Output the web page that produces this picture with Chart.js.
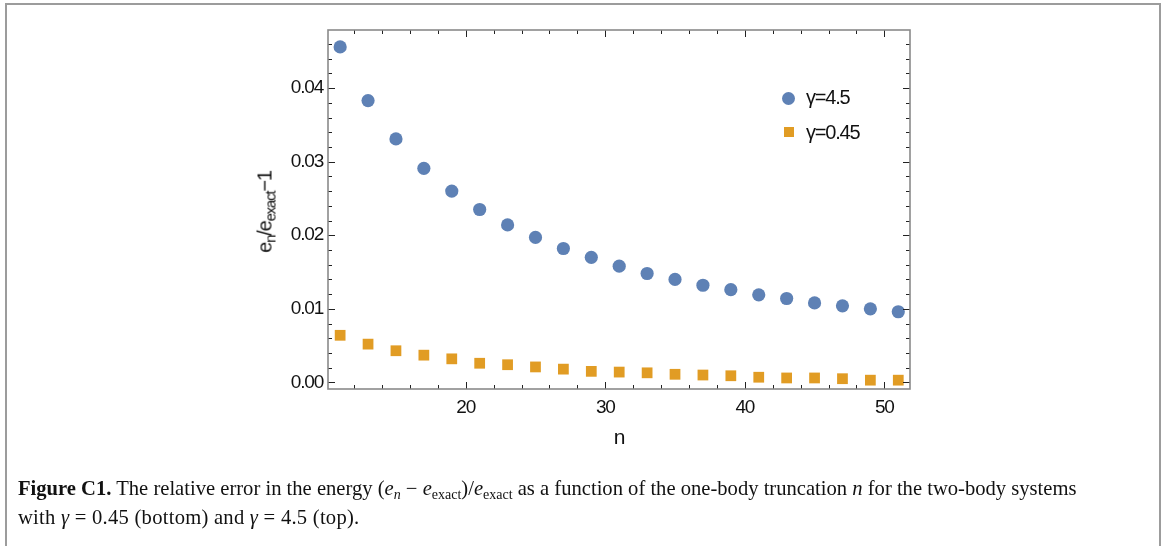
<!DOCTYPE html>
<html>
<head>
<meta charset="utf-8">
<script src="https://cdn.jsdelivr.net/npm/chart.js@4/dist/chart.umd.min.js"></script>
<style>
  html, body { margin: 0; padding: 0; background: #fff; overflow: hidden; }
  #wrap { position: relative; width: 1168px; height: 546px; }
  #frame { position: absolute; left: 5px; top: 3px; width: 1156px; height: 600px;
           border: 2px solid #9c9c9c; box-sizing: border-box; }
  #chart { position: absolute; left: 0; top: 0; }
  .sans { font-family: "Liberation Sans", Arial, sans-serif; color: #111; letter-spacing: -1.2px; }
  #ylabel { position: absolute; left: 266px; top: 212px; font-size: 20px; white-space: nowrap;
            transform: translate(-50%, -50%) rotate(-90deg); }
  #ylabel sub { font-size: 15px; vertical-align: -4px; }
  #xlabel { position: absolute; left: 619px; top: 437px; font-size: 21px; transform: translate(-50%, -50%); }
  .leg { position: absolute; left: 806px; font-size: 20px; white-space: nowrap; transform: translateY(-50%); }
  .mark { position: absolute; }
  #caption { position: absolute; left: 18px; top: 474px; font-family: "Liberation Serif", "DejaVu Serif", serif;
             font-size: 20.6px; line-height: 29px; color: #111; white-space: nowrap; }
  #caption sub { font-size: 14px; vertical-align: -4px; line-height: 0; }
  #caption .l2 { letter-spacing: 0.25px; }
</style>
</head>
<body>
<div id="wrap">
  <div id="frame"></div>
  <canvas id="chart" width="1168" height="546"></canvas>
  <div id="ylabel" class="sans">e<sub>n</sub>/e<sub>exact</sub>−1</div>
  <div id="xlabel" class="sans">n</div>
  <div class="mark" style="left:782px;top:92px;width:13px;height:13px;border-radius:50%;background:#5E81B5"></div>
  <div class="leg sans" style="top:97px">γ=4.5</div>
  <div class="mark" style="left:784px;top:127px;width:10px;height:10px;background:#E19C24"></div>
  <div class="leg sans" style="top:132px">γ=0.45</div>
  <div id="caption"><b>Figure C1.</b> The relative error in the energy (<i>e<sub>n</sub></i> − <i>e</i><sub>exact</sub>)/<i>e</i><sub>exact</sub> as a function of the one-body truncation <i>n</i> for the two-body systems<br><span class="l2">with <i>γ</i> = 0.45 (bottom) and <i>γ</i> = 4.5 (top).</span></div>
</div>
<script>
// 截断参数 n
const nValues = [11, 13, 15, 17, 19, 21, 23, 25, 27, 29, 31, 33, 35, 37, 39, 41, 43, 45, 47, 49, 51];
// γ=4.5 的相对误差
const errGamma45 = [0.0456, 0.0383, 0.0331, 0.0291, 0.0260, 0.0235, 0.0214, 0.0197, 0.0182, 0.0170,
                    0.0158, 0.0148, 0.0140, 0.0132, 0.0126, 0.0119, 0.0114, 0.0108, 0.0104, 0.0100, 0.0096];
// γ=0.45 的相对误差
const errGamma045 = [0.0064, 0.0052, 0.0043, 0.0037, 0.0032, 0.0026, 0.0024, 0.0021, 0.0018, 0.0015,
                     0.0014, 0.0013, 0.0011, 0.0010, 0.0009, 0.0007, 0.0006, 0.0006, 0.0005, 0.0003, 0.0003];
// 刻度
const xMajorTicks = [20, 30, 40, 50];
const yMajorTicks = [0.00, 0.01, 0.02, 0.03, 0.04];

const toPoints = (ys) => nValues.map((n, i) => ({ x: n, y: ys[i] }));

// 画边框和朝内的刻度（上下左右四条边）
const frameTicks = {
    id: 'frameTicks',
    beforeDraw(chart) {
        chart.ctx.letterSpacing = '-1.2px';
    },
    afterDraw(chart) {
        const { ctx, chartArea: a, scales: { x, y } } = chart;
        ctx.save();
        ctx.letterSpacing = '0px';
        ctx.strokeStyle = '#222';
        ctx.lineWidth = 1;
        ctx.beginPath();
        for (let v = 12; v <= 51; v += 2) {
            const px = Math.round(x.getPixelForValue(v)) + 0.5;
            const len = v % 10 === 0 ? 7 : 4;
            ctx.moveTo(px, a.bottom); ctx.lineTo(px, a.bottom - len);
            ctx.moveTo(px, a.top); ctx.lineTo(px, a.top + len);
        }
        for (let k = 0; k <= 23; k++) {
            const v = k * 0.002;
            const py = Math.round(y.getPixelForValue(v)) + 0.5;
            const len = k % 5 === 0 ? 7 : 4;
            ctx.moveTo(a.left, py); ctx.lineTo(a.left + len, py);
            ctx.moveTo(a.right, py); ctx.lineTo(a.right - len, py);
        }
        ctx.stroke();
        ctx.strokeStyle = '#8a8a8a';
        ctx.lineWidth = 1.6;
        ctx.strokeRect(a.left, a.top, a.right - a.left, a.bottom - a.top);
        ctx.restore();
    }
};

new Chart(document.getElementById('chart'), {
    type: 'scatter',
    data: {
        datasets: [{
            label: 'γ=4.5',
            data: toPoints(errGamma45),
            backgroundColor: '#5E81B5',
            borderColor: '#5E81B5',
            borderWidth: 0,
            pointStyle: 'circle',
            pointRadius: 6.6
        }, {
            label: 'γ=0.45',
            data: toPoints(errGamma045),
            backgroundColor: '#E19C24',
            borderColor: '#E19C24',
            borderWidth: 0,
            pointStyle: 'rect',
            pointRadius: 7.6
        }]
    },
    options: {
        responsive: false,
        animation: false,
        layout: { padding: { left: 0, top: 30, right: 258, bottom: 0 } },
        plugins: { legend: { display: false }, tooltip: { enabled: false } },
        scales: {
            x: {
                type: 'linear',
                min: 10.13,
                max: 51.84,
                afterFit: (s) => { s.height = 157; },
                border: { display: false },
                grid: { display: false, drawTicks: false },
                afterBuildTicks: (s) => { s.ticks = xMajorTicks.map(v => ({ value: v })); },
                ticks: {
                    padding: 7,
                    color: '#111',
                    font: { family: '"Liberation Sans", Arial, sans-serif', size: 19 },
                    callback: (v) => String(v)
                }
            },
            y: {
                type: 'linear',
                min: -0.0009,
                max: 0.0479,
                afterFit: (s) => { s.width = 328; },
                border: { display: false },
                grid: { display: false, drawTicks: false },
                afterBuildTicks: (s) => { s.ticks = yMajorTicks.map(v => ({ value: v })); },
                ticks: {
                    padding: 5,
                    color: '#111',
                    font: { family: '"Liberation Sans", Arial, sans-serif', size: 19 },
                    callback: (v) => Number(v).toFixed(2)
                }
            }
        }
    },
    plugins: [frameTicks]
});
</script>
</body>
</html>
